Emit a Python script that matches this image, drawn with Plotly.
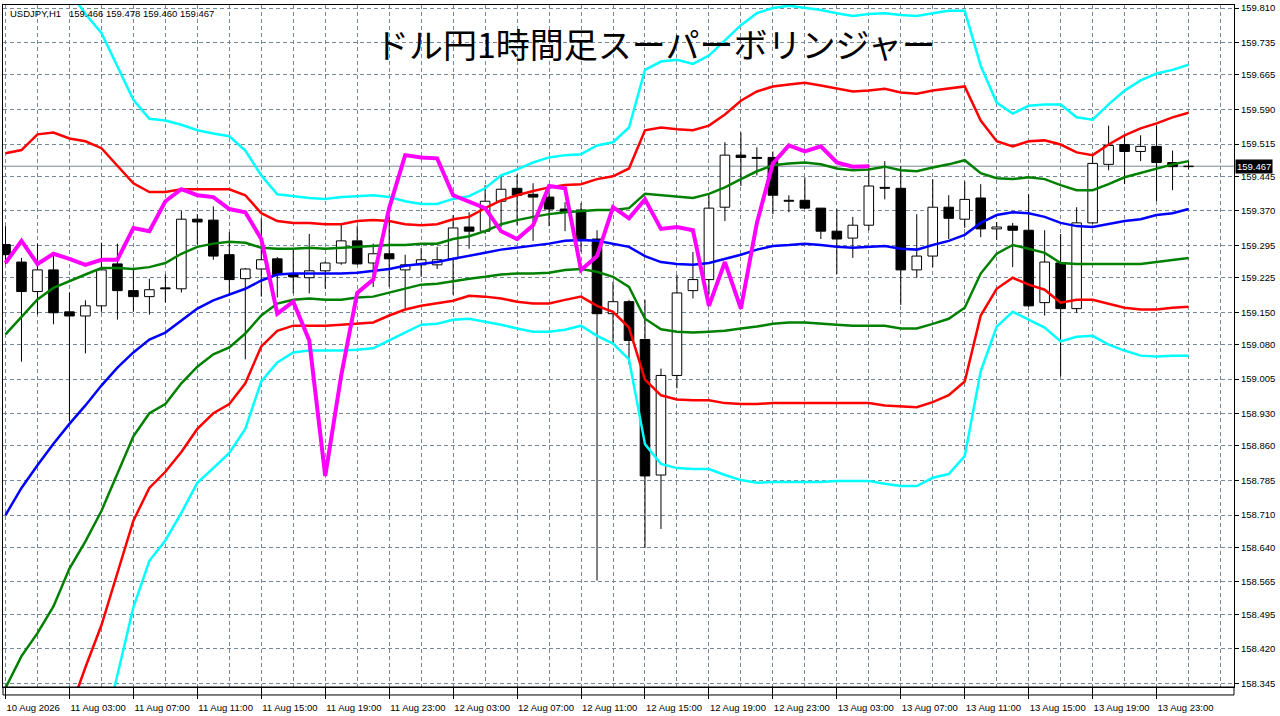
import numpy as np
import plotly.graph_objects as go

# USDJPY H1 bars, first bar = 10 Aug 2026 23:00
open_ = [159.297, 159.259, 159.195, 159.242, 159.151, 159.142, 159.164, 159.255, 159.197, 159.184,
         159.203, 159.201, 159.352, 159.350, 159.275, 159.223, 159.244, 159.266, 159.232, 159.225,
         159.240, 159.257, 159.305, 159.257, 159.277, 159.242, 159.253, 159.253, 159.266, 159.335,
         159.326, 159.391, 159.419, 159.406, 159.400, 159.374, 159.372, 159.309, 159.147, 159.173,
         159.091, 158.797, 159.013, 159.197, 159.221, 159.378, 159.491, 159.486, 159.486, 159.393,
         159.393, 159.376, 159.326, 159.311, 159.339, 159.421, 159.419, 159.242, 159.272, 159.378,
         159.352, 159.398, 159.331, 159.337, 159.328, 159.171, 159.257, 159.158, 159.344, 159.471,
         159.514, 159.499, 159.510, 159.475, 159.466]
high = [159.337, 159.268, 159.299, 159.275, 159.193, 159.176, 159.301, 159.299, 159.244, 159.223,
        159.232, 159.370, 159.363, 159.380, 159.324, 159.246, 159.354, 159.270, 159.286, 159.320,
        159.261, 159.340, 159.337, 159.299, 159.357, 159.275, 159.290, 159.292, 159.361, 159.367,
        159.426, 159.449, 159.449, 159.430, 159.413, 159.389, 159.387, 159.328, 159.216, 159.177,
        159.177, 159.028, 159.231, 159.281, 159.404, 159.519, 159.540, 159.508, 159.499, 159.404,
        159.443, 159.376, 159.374, 159.357, 159.471, 159.478, 159.467, 159.363, 159.439, 159.404,
        159.434, 159.428, 159.346, 159.344, 159.406, 159.328, 159.320, 159.378, 159.491, 159.555,
        159.536, 159.534, 159.555, 159.501, 159.478]
low = [159.255, 159.043, 159.145, 159.124, 158.914, 159.061, 159.151, 159.134, 159.151, 159.145,
       159.171, 159.193, 159.297, 159.264, 159.186, 159.048, 159.184, 159.182, 159.191, 159.191,
       159.201, 159.253, 159.253, 159.205, 159.205, 159.158, 159.227, 159.244, 159.188, 159.288,
       159.320, 159.335, 159.339, 159.305, 159.337, 159.326, 159.281, 158.568, 159.084, 159.037,
       158.639, 158.680, 158.985, 159.180, 159.188, 159.348, 159.424, 159.447, 159.363, 159.367,
       159.374, 159.309, 159.233, 159.268, 159.328, 159.395, 159.166, 159.225, 159.248, 159.309,
       159.333, 159.313, 159.307, 159.248, 159.162, 159.143, 159.011, 159.149, 159.342, 159.458,
       159.428, 159.478, 159.391, 159.415, 159.460]
close = [159.275, 159.195, 159.242, 159.149, 159.142, 159.164, 159.242, 159.197, 159.184, 159.199,
         159.201, 159.352, 159.346, 159.272, 159.221, 159.244, 159.264, 159.232, 159.227, 159.240,
         159.257, 159.305, 159.255, 159.277, 159.266, 159.253, 159.264, 159.264, 159.333, 159.326,
         159.391, 159.417, 159.404, 159.400, 159.374, 159.367, 159.309, 159.147, 159.173, 159.089,
         158.795, 159.013, 159.192, 159.221, 159.376, 159.491, 159.486, 159.484, 159.404, 159.391,
         159.376, 159.326, 159.309, 159.339, 159.424, 159.419, 159.242, 159.272, 159.378, 159.354,
         159.395, 159.331, 159.335, 159.328, 159.164, 159.259, 159.158, 159.344, 159.473, 159.512,
         159.499, 159.510, 159.475, 159.466, 159.467]

# super bollinger lines
mid = [158.710, 158.769, 158.818, 158.865, 158.908, 158.948, 158.991, 159.030, 159.063, 159.091,
       159.106, 159.132, 159.158, 159.176, 159.189, 159.201, 159.219, 159.232, 159.234, 159.234,
       159.234, 159.234, 159.236, 159.240, 159.244, 159.251, 159.255, 159.259, 159.266, 159.272,
       159.279, 159.286, 159.290, 159.294, 159.299, 159.305, 159.307, 159.305, 159.299, 159.292,
       159.272, 159.259, 159.255, 159.253, 159.257, 159.266, 159.275, 159.286, 159.294, 159.296,
       159.299, 159.296, 159.292, 159.290, 159.292, 159.294, 159.288, 159.286, 159.296, 159.305,
       159.318, 159.344, 159.361, 159.367, 159.365, 159.357, 159.344, 159.337, 159.335, 159.341,
       159.348, 159.352, 159.361, 159.365, 159.374]
up1 = [159.102, 159.140, 159.178, 159.203, 159.218, 159.232, 159.246, 159.246, 159.244, 159.248,
       159.257, 159.277, 159.292, 159.299, 159.303, 159.301, 159.290, 159.288, 159.288, 159.290,
       159.288, 159.290, 159.292, 159.294, 159.296, 159.296, 159.299, 159.299, 159.309, 159.315,
       159.326, 159.341, 159.350, 159.357, 159.363, 159.367, 159.370, 159.372, 159.372, 159.376,
       159.407, 159.404, 159.402, 159.398, 159.407, 159.421, 159.439, 159.456, 159.469, 159.473,
       159.475, 159.471, 159.462, 159.458, 159.460, 159.466, 159.458, 159.456, 159.464, 159.471,
       159.480, 159.452, 159.441, 159.439, 159.443, 159.439, 159.426, 159.415, 159.415, 159.428,
       159.443, 159.452, 159.462, 159.471, 159.478]
dn1 = [158.335, 158.404, 158.454, 158.512, 158.594, 158.653, 158.719, 158.802, 158.881, 158.931,
       158.951, 158.996, 159.032, 159.059, 159.074, 159.104, 159.143, 159.169, 159.177, 159.180,
       159.177, 159.177, 159.182, 159.184, 159.193, 159.201, 159.210, 159.212, 159.218, 159.223,
       159.227, 159.232, 159.234, 159.234, 159.236, 159.242, 159.244, 159.238, 159.227, 159.205,
       159.136, 159.113, 159.108, 159.106, 159.108, 159.110, 159.115, 159.119, 159.125, 159.128,
       159.128, 159.125, 159.123, 159.121, 159.121, 159.121, 159.115, 159.115, 159.125, 159.136,
       159.160, 159.234, 159.277, 159.296, 159.288, 159.279, 159.257, 159.255, 159.255, 159.255,
       159.255, 159.255, 159.259, 159.264, 159.268]
up2 = [159.495, 159.502, 159.536, 159.540, 159.527, 159.521, 159.506, 159.469, 159.430, 159.411,
       159.411, 159.417, 159.417, 159.417, 159.417, 159.404, 159.365, 159.348, 159.344, 159.344,
       159.341, 159.341, 159.348, 159.350, 159.348, 159.341, 159.339, 159.341, 159.352, 159.357,
       159.376, 159.393, 159.404, 159.413, 159.421, 159.426, 159.428, 159.439, 159.445, 159.462,
       159.545, 159.551, 159.547, 159.545, 159.555, 159.579, 159.609, 159.629, 159.640, 159.644,
       159.648, 159.642, 159.635, 159.629, 159.631, 159.635, 159.627, 159.624, 159.631, 159.635,
       159.640, 159.566, 159.521, 159.510, 159.521, 159.523, 159.514, 159.497, 159.491, 159.514,
       159.534, 159.549, 159.560, 159.573, 159.583]
dn2 = [None, None, None, None, 158.283, 158.380, 158.471, 158.585, 158.698, 158.769,
       158.804, 158.847, 158.897, 158.931, 158.951, 158.996, 159.076, 159.110, 159.121, 159.121,
       159.121, 159.123, 159.125, 159.128, 159.143, 159.156, 159.164, 159.169, 159.175, 159.186,
       159.184, 159.180, 159.173, 159.169, 159.169, 159.177, 159.184, 159.164, 159.151, 159.117,
       159.004, 158.970, 158.961, 158.959, 158.959, 158.953, 158.951, 158.951, 158.953, 158.953,
       158.953, 158.953, 158.953, 158.953, 158.953, 158.948, 158.946, 158.944, 158.955, 158.970,
       159.000, 159.143, 159.201, 159.225, 159.210, 159.199, 159.171, 159.177, 159.177, 159.169,
       159.160, 159.156, 159.156, 159.160, 159.162]
up3 = [None, None, None, None, 159.847, 159.797, 159.756, 159.685, 159.611, 159.570,
       159.566, 159.557, 159.545, 159.538, 159.532, 159.501, 159.447, 159.406, 159.402, 159.398,
       159.396, 159.400, 159.402, 159.404, 159.400, 159.391, 159.385, 159.385, 159.396, 159.402,
       159.419, 159.447, 159.460, 159.475, 159.486, 159.491, 159.493, 159.512, 159.519, 159.551,
       159.676, 159.694, 159.698, 159.689, 159.707, 159.741, 159.773, 159.799, 159.810, 159.815,
       159.810, 159.806, 159.799, 159.793, 159.797, 159.799, 159.795, 159.793, 159.799, 159.804,
       159.804, 159.685, 159.605, 159.581, 159.598, 159.601, 159.601, 159.573, 159.568, 159.601,
       159.631, 159.653, 159.668, 159.676, 159.687]
dn3 = [None, None, None, None, None, None, 158.216, 158.363, 158.510, 158.611,
       158.655, 158.715, 158.780, 158.812, 158.845, 158.897, 159.000, 159.041, 159.063, 159.067,
       159.067, 159.067, 159.069, 159.072, 159.089, 159.106, 159.123, 159.125, 159.134, 159.136,
       159.130, 159.123, 159.115, 159.108, 159.108, 159.112, 159.121, 159.099, 159.082, 159.048,
       158.864, 158.821, 158.812, 158.810, 158.810, 158.797, 158.786, 158.780, 158.782, 158.782,
       158.782, 158.782, 158.784, 158.784, 158.784, 158.778, 158.773, 158.773, 158.791, 158.799,
       158.838, 159.022, 159.119, 159.151, 159.134, 159.117, 159.087, 159.097, 159.099, 159.080,
       159.067, 159.056, 159.054, 159.056, 159.056]
chikou_shift = 20

x_labels = ["10 Aug 2026", "11 Aug 03:00", "11 Aug 07:00", "11 Aug 11:00", "11 Aug 15:00",
            "11 Aug 19:00", "11 Aug 23:00", "12 Aug 03:00", "12 Aug 07:00", "12 Aug 11:00",
            "12 Aug 15:00", "12 Aug 19:00", "12 Aug 23:00", "13 Aug 03:00", "13 Aug 07:00",
            "13 Aug 11:00", "13 Aug 15:00", "13 Aug 19:00", "13 Aug 23:00"]
y_labels = ["159.810", "159.735", "159.665", "159.590", "159.515", "159.445", "159.370",
            "159.295", "159.225", "159.150", "159.080", "159.005", "158.930", "158.860",
            "158.785", "158.710", "158.640", "158.565", "158.495", "158.420", "158.345"]

title = "ドル円1時間足スーパーボリンジャー"
grid_col = "#778899"
font_ui = "Liberation Sans"

n = len(close)
x = np.arange(n)
o = np.array(open_)
c = np.array(close)
h = np.array(high)
l = np.array(low)
top = np.maximum(o, c)
bot = np.minimum(o, c)
up = c >= o

# wicks drawn as two pieces so they don't cross the white bodies
wx, wy = [], []
for i in range(n):
    if h[i] > top[i]:
        wx += [i, i, None]
        wy += [top[i], h[i], None]
    if l[i] < bot[i]:
        wx += [i, i, None]
        wy += [bot[i], l[i], None]

fig = go.Figure()
fig.add_trace(go.Bar(x=x[up], y=(top - bot)[up], base=bot[up], width=0.6,
                     marker=dict(color="white", line=dict(color="black", width=1))))
fig.add_trace(go.Bar(x=x[~up], y=(top - bot)[~up], base=bot[~up], width=0.6,
                     marker=dict(color="black", line=dict(color="black", width=1))))
fig.add_trace(go.Scatter(x=wx, y=wy, mode="lines", line=dict(color="black", width=1)))

bands = [(up3, "#00FFFF"), (dn3, "#00FFFF"), (up2, "#FF0000"), (dn2, "#FF0000"),
         (up1, "#008000"), (dn1, "#008000"), (mid, "#0000FF")]
for vals, col in bands:
    fig.add_trace(go.Scatter(x=x, y=vals, mode="lines", line=dict(color=col, width=2.5)))

# lagging span: close moved back 20 bars
fig.add_trace(go.Scatter(x=x[:n - chikou_shift], y=close[chikou_shift:], mode="lines",
                         line=dict(color="#FF00FF", width=4)))

grid = dict(showgrid=True, gridcolor=grid_col, griddash="4px,3px", gridwidth=1)
fig.update_layout(
    width=1280, height=716,
    margin=dict(l=2, r=46, t=2, b=29),
    paper_bgcolor="white", plot_bgcolor="white",
    showlegend=False, barmode="overlay",
    font=dict(family=font_ui, size=10, color="black"),
    xaxis=dict(range=[-0.15625, 76.84375], tickmode="array",
               tickvals=list(range(0, 4 * len(x_labels), 4)), ticktext=x_labels,
               ticks="outside", ticklen=11, tickcolor="black", tickwidth=1, tickangle=0,
               ticklabelposition="outside right", ticklabelstandoff=12,
               ticklabeloverflow="allow", tickfont=dict(size=9.5),
               minor=dict(tickvals=list(range(0, 77, 2)), **grid),
               showline=True, linecolor="black", linewidth=1, mirror=True,
               zeroline=False, **grid),
    yaxis=dict(range=[158.3371, 159.8167], side="right", tickmode="array",
               tickvals=[float(s) for s in y_labels], ticktext=y_labels,
               ticks="outside", ticklen=4, tickcolor="black", tickwidth=1,
               ticklabeloverflow="allow", tickfont=dict(size=9.5),
               showline=True, linecolor="black", linewidth=1, mirror=True,
               zeroline=False, **grid),
)

# current price line and label
fig.add_shape(type="line", xref="paper", x0=0, x1=1, yref="y", y0=close[-1], y1=close[-1],
              line=dict(color=grid_col, width=1), layer="below")
fig.add_annotation(x=1, xref="paper", y=close[-1], yref="y", text=f"{close[-1]:.3f}",
                   showarrow=False, xanchor="left", xshift=1, bgcolor="black",
                   font=dict(color="white", size=9.5, family=font_ui), borderpad=1)

# empty strip under the chart (like the terminal)
fig.add_shape(type="rect", xref="paper", yref="paper", x0=0, x1=1, y0=0, y1=-0.0117,
              fillcolor="rgba(0,0,0,0)", line=dict(color="black", width=1), layer="above")

fig.add_annotation(x=0.004, y=0.987, xref="paper", yref="paper", xanchor="left", yanchor="middle",
                   text=f"USDJPY,H1\u00a0\u00a0 {open_[-1]:.3f} {high[-1]:.3f} {low[-1]:.3f} {close[-1]:.3f}",
                   showarrow=False, font=dict(size=9.5, family=font_ui, color="black"))
fig.add_annotation(x=0.530, y=0.944, xref="paper", yref="paper", xanchor="center", yanchor="middle",
                   text=title, showarrow=False,
                   font=dict(size=34, family="Noto Sans CJK JP", color="black"))

fig.write_html("out.html", config={"displayModeBar": False},
               post_script="document.body.style.margin='0px';")
